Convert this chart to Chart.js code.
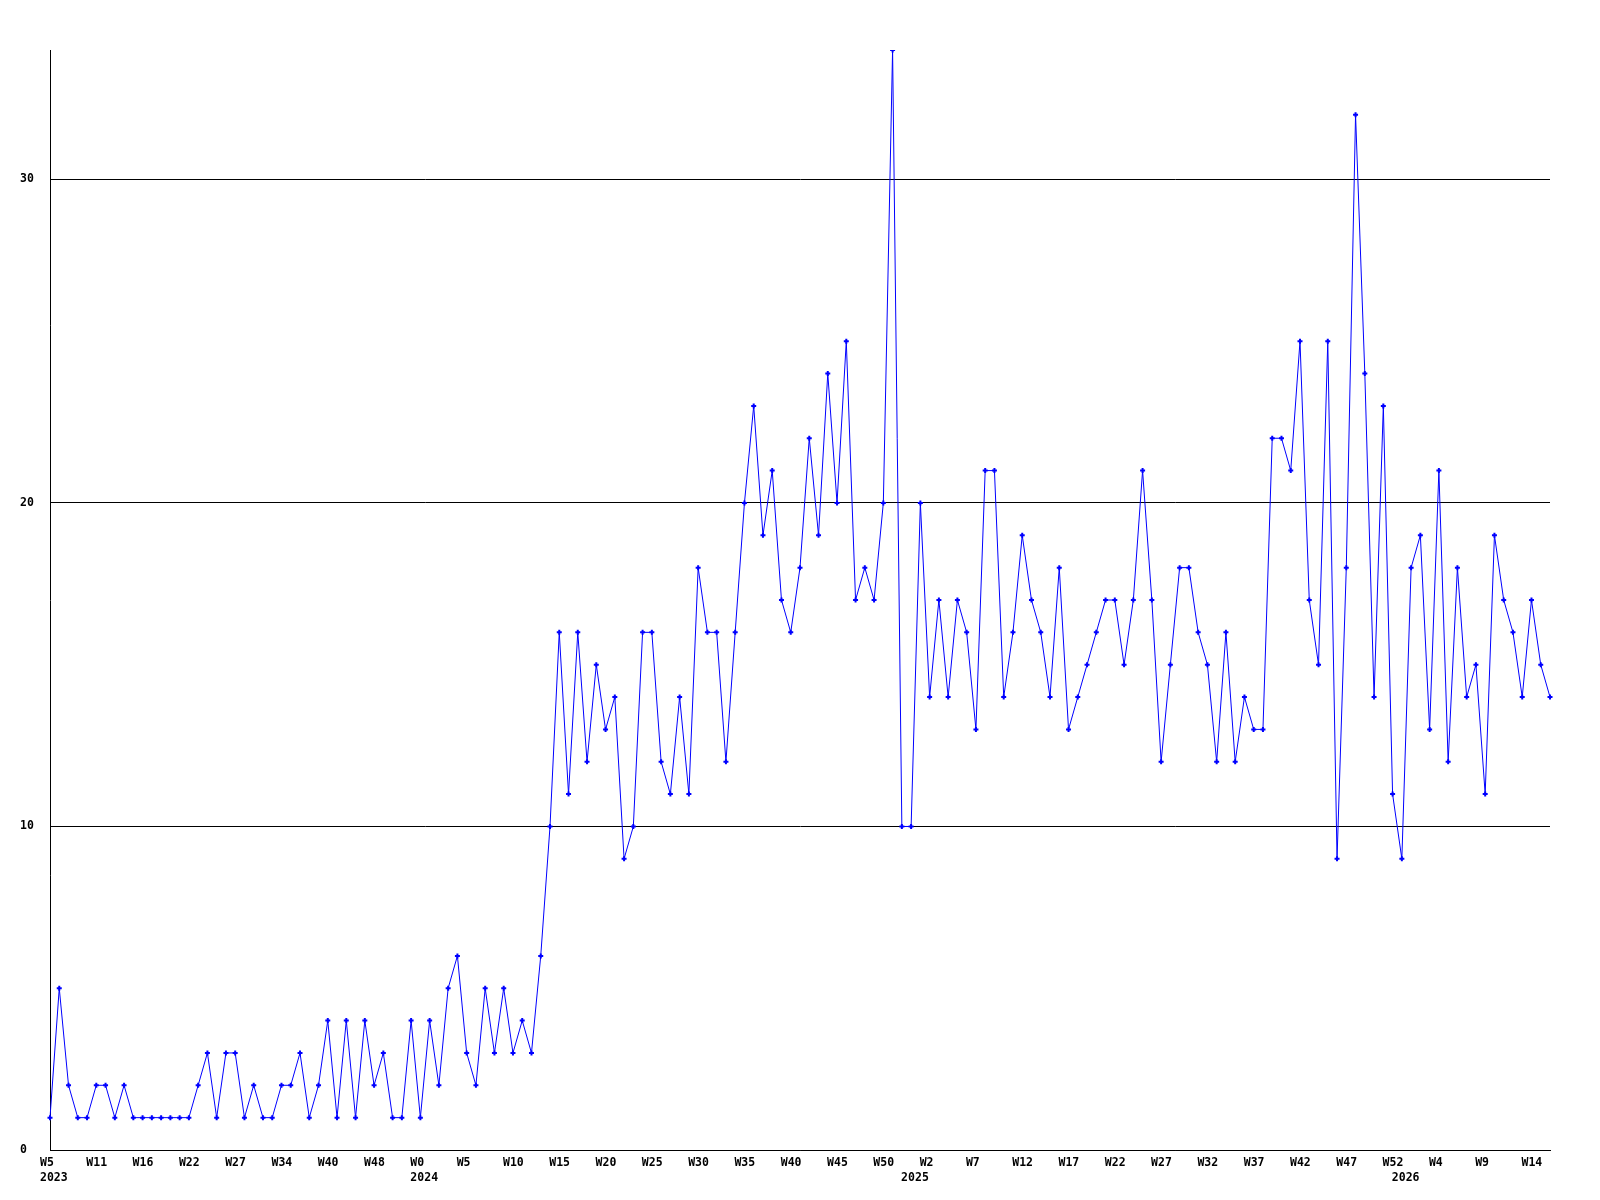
<!DOCTYPE html>
<html>
<head>
<meta charset="utf-8">
<title>Weekly count</title>
<script src="https://cdn.jsdelivr.net/npm/chart.js@4.4.1/dist/chart.umd.min.js"></script>
<style>
  html, body { margin: 0; padding: 0; background: #ffffff; }
  #wrap { width: 1600px; height: 1200px; }
</style>
</head>
<body>
<div id="wrap"><canvas id="weekly" width="1600" height="1200"></canvas></div>
<script>
// ---------------------------------------------------------------------------
// Data (one value per plotted week)
// ---------------------------------------------------------------------------
const weeklyCounts = [
  1, 5, 2, 1, 1, 2, 2, 1, 2, 1,
  1, 1, 1, 1, 1, 1, 2, 3, 1, 3,
  3, 1, 2, 1, 1, 2, 2, 3, 1, 2,
  4, 1, 4, 1, 4, 2, 3, 1, 1, 4,
  1, 4, 2, 5, 6, 3, 2, 5, 3, 5,
  3, 4, 3, 6, 10, 16, 11, 16, 12, 15,
  13, 14, 9, 10, 16, 16, 12, 11, 14, 11,
  18, 16, 16, 12, 16, 20, 23, 19, 21, 17,
  16, 18, 22, 19, 24, 20, 25, 17, 18, 17,
  20, 34, 10, 10, 20, 14, 17, 14, 17, 16,
  13, 21, 21, 14, 16, 19, 17, 16, 14, 18,
  13, 14, 15, 16, 17, 17, 15, 17, 21, 17,
  12, 15, 18, 18, 16, 15, 12, 16, 12, 14,
  13, 13, 22, 22, 21, 25, 17, 15, 25, 9,
  18, 32, 24, 14, 23, 11, 9, 18, 19, 13,
  21, 12, 18, 14, 15, 11, 19, 17, 16, 14,
  17, 15, 14
];

// a week label is printed under every 5th point
const LABEL_EVERY = 5;
const weekTicks = [
  'W5', 'W11', 'W16', 'W22', 'W27', 'W34', 'W40', 'W48',
  'W0', 'W5', 'W10', 'W15', 'W20', 'W25', 'W30', 'W35', 'W40', 'W45', 'W50',
  'W2', 'W7', 'W12', 'W17', 'W22', 'W27', 'W32', 'W37', 'W42', 'W47', 'W52',
  'W4', 'W9', 'W14'
];
// year labels sit on a second row, under the first point of each year
const yearPointIndex = [0, 40, 93, 146];
const yearTicks = ['2023', '2024', '2025', '2026'];

const yTicks = [0, 10, 20, 30];
const Y_MAX = 34;

// ---------------------------------------------------------------------------
// Build category labels
// ---------------------------------------------------------------------------
const categories = weeklyCounts.map((v, i) => {
  const week = i % LABEL_EVERY === 0 ? weekTicks[i / LABEL_EVERY] : '';
  const y = yearPointIndex.indexOf(i);
  return y >= 0 ? [week, yearTicks[y]] : week;
});

const tickFont = { family: '"DejaVu Sans Mono", monospace', size: 11.5, weight: 'bold', lineHeight: 1.25 };

new Chart(document.getElementById('weekly'), {
  type: 'line',
  data: {
    labels: categories,
    datasets: [{
      data: weeklyCounts,
      borderColor: '#0000ff',
      borderWidth: 1,
      pointStyle: 'cross',
      pointRadius: 2.5,
      pointBorderWidth: 2,
      pointBorderColor: '#0000ff',
      pointBackgroundColor: '#0000ff',
      fill: false,
      tension: 0
    }]
  },
  options: {
    responsive: false,
    animation: false,
    devicePixelRatio: 1,
    layout: { padding: { top: 50, left: 20, right: 50, bottom: 0 } },
    plugins: {
      legend: { display: false },
      tooltip: { enabled: false }
    },
    scales: {
      x: {
        type: 'category',
        offset: false,
        afterFit: (scale) => { scale.height = 50; },
        grid: { display: true, drawOnChartArea: false, drawTicks: false },
        border: { display: true, color: '#000000', width: 1 },
        ticks: {
          autoSkip: false,
          maxRotation: 0,
          minRotation: 0,
          align: 'start',
          labelOffset: -10,
          padding: 6,
          color: '#000000',
          font: tickFont
        }
      },
      y: {
        min: 0,
        max: Y_MAX,
        afterFit: (scale) => { scale.width = 30; },
        afterBuildTicks: (scale) => { scale.ticks = yTicks.map(v => ({ value: v })); },
        grid: { color: '#000000', lineWidth: 1, drawTicks: false },
        border: { display: true, color: '#000000', width: 1 },
        ticks: {
          crossAlign: 'far',
          padding: 0,
          color: '#000000',
          font: tickFont
        }
      }
    }
  }
});
</script>
</body>
</html>
